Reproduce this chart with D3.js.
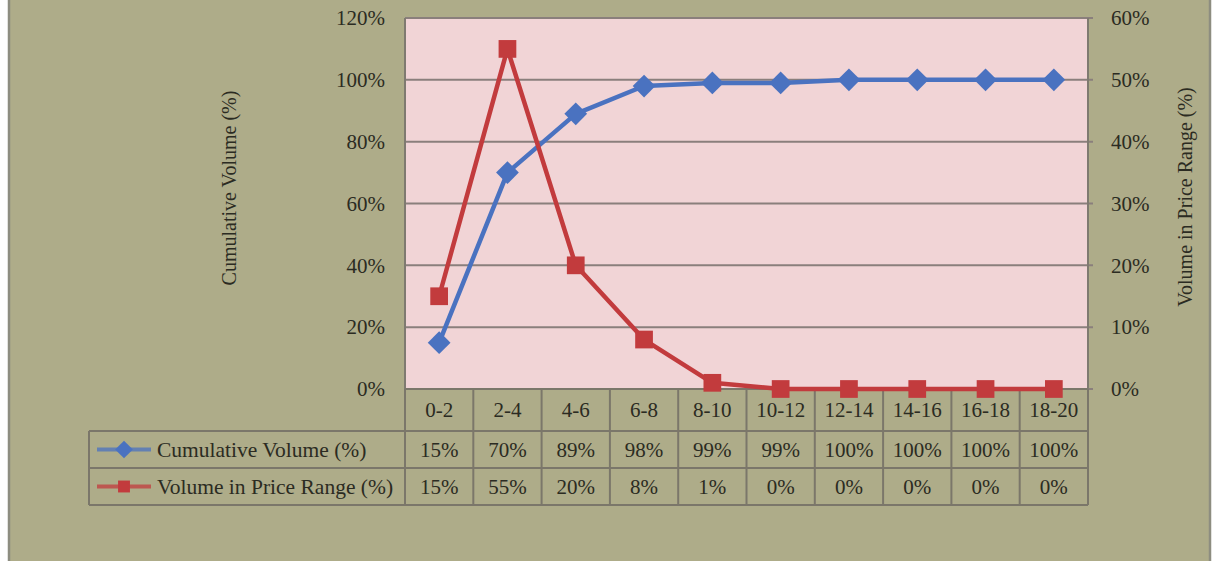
<!DOCTYPE html>
<html>
<head>
<meta charset="utf-8">
<script src="https://cdn.jsdelivr.net/npm/d3@7"></script>
<style>
  html, body { margin: 0; padding: 0; background: #ffffff; }
  svg { display: block; }
  text { font-family: "Liberation Serif", "Times New Roman", serif; fill: #2b2b22; }
</style>
</head>
<body>
<svg id="chart" width="1213" height="561"></svg>
<script>
// Price ranges (categories)
const categories = ["0-2", "2-4", "4-6", "6-8", "8-10", "10-12", "12-14", "14-16", "16-18", "18-20"];
// Cumulative volume share per range, percent (primary axis)
const cumulativeVolume = [15, 70, 89, 98, 99, 99, 100, 100, 100, 100];
// Volume share within each range, percent (secondary axis)
const volumeInRange = [15, 55, 20, 8, 1, 0, 0, 0, 0, 0];
// Axis tick values
const leftTicks = [0, 20, 40, 60, 80, 100, 120];
const rightTicks = [0, 10, 20, 30, 40, 50, 60];
const seriesNames = ["Cumulative Volume (%)", "Volume in Price Range (%)"];

const svg = d3.select("#chart");
const W = 1213, H = 561;
const plot = { left: 405, right: 1088, top: 18, bottom: 389 };
const rowEdges = [389, 431, 468, 505];
const tableLeft = 89;

const colors = { bg: "#aeac89", plot: "#f1d4d6", grid: "#8a7f7c", table: "#7b776a",
                 blue: "#4a72c0", red: "#c23b3d" };
const fs = 21;

// Chart background with its outer border
svg.append("rect").attr("x", 0).attr("y", 0).attr("width", W).attr("height", H).attr("fill", "#ffffff");
svg.append("rect").attr("x", 9).attr("y", -5).attr("width", 1201).attr("height", H + 10)
  .attr("fill", colors.bg).attr("stroke", "#8d8d80").attr("stroke-width", 2.5);

const x = d3.scaleBand().domain(categories).range([plot.left, plot.right]);
const yL = d3.scaleLinear().domain([0, 120]).range([plot.bottom, plot.top]);
const yR = d3.scaleLinear().domain([0, 60]).range([plot.bottom, plot.top]);

// Plot area
svg.append("rect").attr("x", plot.left).attr("y", plot.top)
  .attr("width", plot.right - plot.left).attr("height", plot.bottom - plot.top)
  .attr("fill", colors.plot);

// Gridlines
svg.append("g").selectAll("line").data(leftTicks).join("line")
  .attr("x1", plot.left).attr("x2", plot.right + 5)
  .attr("y1", d => yL(d)).attr("y2", d => yL(d))
  .attr("stroke", colors.grid).attr("stroke-width", 2);

// Plot borders left / right
svg.append("line").attr("x1", plot.left).attr("x2", plot.left).attr("y1", plot.top).attr("y2", plot.bottom)
  .attr("stroke", "#7f7a70").attr("stroke-width", 2);
svg.append("line").attr("x1", plot.right).attr("x2", plot.right).attr("y1", plot.top).attr("y2", plot.bottom)
  .attr("stroke", "#7f7a70").attr("stroke-width", 2);

// Left axis labels
const fmt = d => d + "%";
const leftAxis = d3.axisLeft(yL).tickValues(leftTicks).tickFormat(fmt).tickSize(0).tickPadding(20);
const gL = svg.append("g").attr("transform", `translate(${plot.left},0)`).call(leftAxis);
gL.select(".domain").remove();
gL.selectAll("text").style("font-family", '"Liberation Serif", serif').style("font-size", fs + "px")
  .attr("fill", "#2b2b22");

// Right axis labels
const rightAxis = d3.axisRight(yR).tickValues(rightTicks).tickFormat(fmt).tickSize(0).tickPadding(23);
const gR = svg.append("g").attr("transform", `translate(${plot.right},0)`).call(rightAxis);
gR.select(".domain").remove();
gR.selectAll("text").style("font-family", '"Liberation Serif", serif').style("font-size", fs + "px")
  .attr("fill", "#2b2b22");

// Axis titles
svg.append("text").attr("transform", `translate(236,188) rotate(-90)`)
  .attr("text-anchor", "middle").style("font-size", "20px").text("Cumulative Volume (%)");
svg.append("text").attr("transform", `translate(1192,197) rotate(-90)`)
  .attr("text-anchor", "middle").style("font-size", "20px").text("Volume in Price Range (%)");

// Data table grid
const tg = svg.append("g").attr("stroke", colors.table).attr("stroke-width", 2).attr("fill", "none");
const colEdges = categories.map(c => x(c)).concat([plot.right]);
tg.selectAll("line.v").data(colEdges).join("line")
  .attr("x1", d => d).attr("x2", d => d).attr("y1", rowEdges[0]).attr("y2", rowEdges[3]);
tg.append("line").attr("x1", plot.left).attr("x2", plot.right).attr("y1", rowEdges[0]).attr("y2", rowEdges[0]);
[1, 2, 3].forEach(i => {
  tg.append("line").attr("x1", tableLeft).attr("x2", plot.right).attr("y1", rowEdges[i]).attr("y2", rowEdges[i]);
});
tg.append("line").attr("x1", tableLeft).attr("x2", tableLeft).attr("y1", rowEdges[1]).attr("y2", rowEdges[3]);

// Table text
const rowMid = i => (rowEdges[i] + rowEdges[i + 1]) / 2;
const cx = c => x(c) + x.bandwidth() / 2;
svg.append("g").selectAll("text").data(categories).join("text")
  .attr("x", cx).attr("y", rowMid(0)).attr("dy", "0.35em").attr("text-anchor", "middle")
  .style("font-size", fs + "px").text(d => d);
svg.append("g").selectAll("text").data(cumulativeVolume).join("text")
  .attr("x", (d, i) => cx(categories[i])).attr("y", rowMid(1)).attr("dy", "0.35em").attr("text-anchor", "middle")
  .style("font-size", fs + "px").text(d => Math.round(d) + "%");
svg.append("g").selectAll("text").data(volumeInRange).join("text")
  .attr("x", (d, i) => cx(categories[i])).attr("y", rowMid(2)).attr("dy", "0.35em").attr("text-anchor", "middle")
  .style("font-size", fs + "px").text(d => Math.round(d) + "%");

// Legend keys inside the table
const diamond = d3.symbol().type(d3.symbolDiamond2);
const square = d3.symbol().type(d3.symbolSquare2);
[[seriesNames[0], colors.blue, diamond.size(200)], [seriesNames[1], colors.red, square.size(180)]]
  .forEach(([name, col, sym], i) => {
    const y = rowMid(i + 1);
    svg.append("line").attr("x1", 97).attr("x2", 151).attr("y1", y).attr("y2", y)
      .attr("stroke", col).attr("stroke-width", 4).attr("opacity", 0.75);
    svg.append("path").attr("d", sym()).attr("transform", `translate(124,${y})`).attr("fill", col);
    svg.append("text").attr("x", 157).attr("y", y).attr("dy", "0.35em")
      .style("font-size", "21.5px").text(name);
  });

// Series lines and markers
const lineL = d3.line().x((d, i) => cx(categories[i])).y(d => yL(d));
const lineR = d3.line().x((d, i) => cx(categories[i])).y(d => yR(d));

svg.append("path").datum(cumulativeVolume).attr("d", lineL)
  .attr("fill", "none").attr("stroke", colors.blue).attr("stroke-width", 4.5).attr("stroke-linejoin", "round");
svg.append("g").selectAll("path").data(cumulativeVolume).join("path")
  .attr("d", diamond.size(330)())
  .attr("transform", (d, i) => `translate(${cx(categories[i])},${yL(d)})`)
  .attr("fill", colors.blue);

svg.append("path").datum(volumeInRange).attr("d", lineR)
  .attr("fill", "none").attr("stroke", colors.red).attr("stroke-width", 4.5).attr("stroke-linejoin", "round");
svg.append("g").selectAll("path").data(volumeInRange).join("path")
  .attr("d", square.size(400)())
  .attr("transform", (d, i) => `translate(${cx(categories[i])},${yR(d)})`)
  .attr("fill", colors.red);
</script>
</body>
</html>
